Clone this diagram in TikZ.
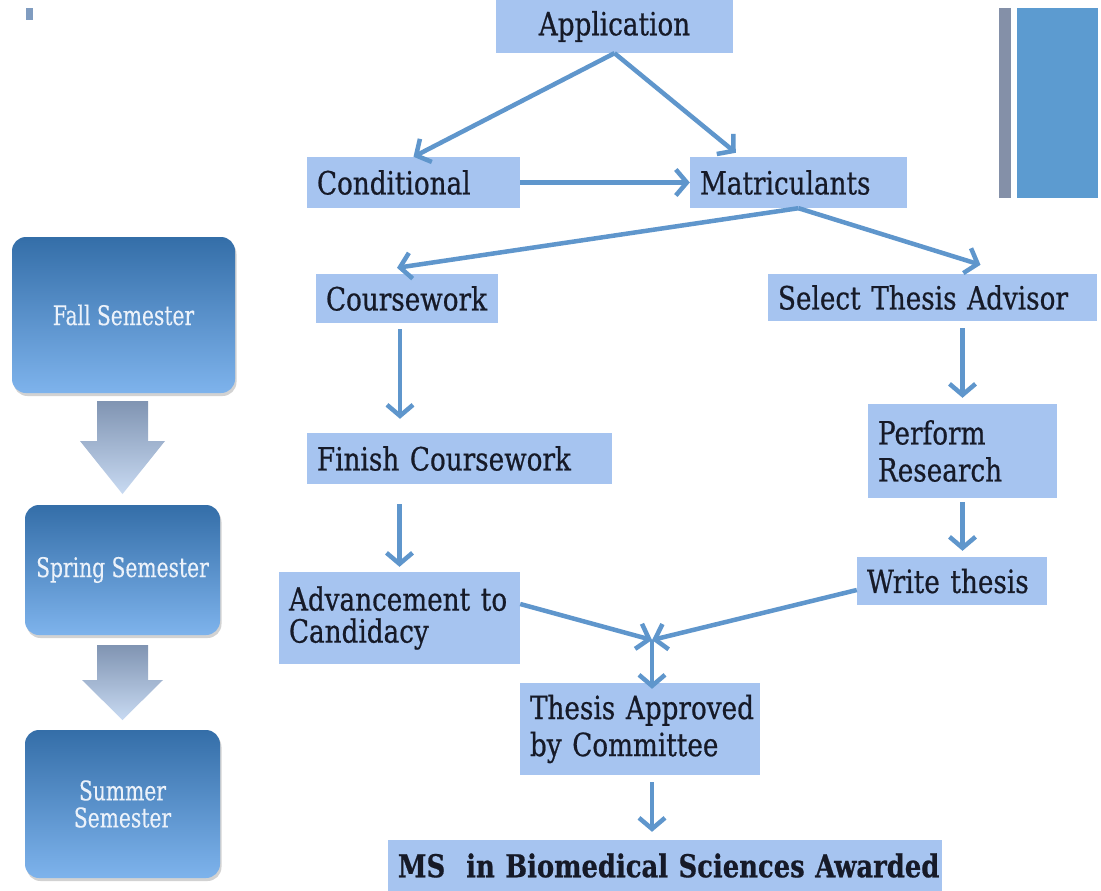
\documentclass[tikz,border=0pt]{standalone}
\usepackage{fontspec}
\setmainfont{DejaVu Serif}[FakeStretch=0.82,FakeBold=0.6]
\newfontfamily\semfont{DejaVu Serif}[FakeStretch=0.75,FakeBold=0.3]
\usetikzlibrary{arrows.meta,calc,shadows}
\definecolor{boxblue}{RGB}{166,196,240}
\definecolor{arrowblue}{RGB}{95,150,204}
\definecolor{textdark}{RGB}{22,26,40}
\definecolor{semtop}{RGB}{52,110,168}
\definecolor{sembot}{RGB}{126,179,236}
\definecolor{dntop}{RGB}{128,148,178}
\definecolor{dnbot}{RGB}{200,218,242}
\definecolor{bargray}{RGB}{132,144,168}
\definecolor{barblue}{RGB}{92,155,208}
\definecolor{marker}{RGB}{128,156,192}
\definecolor{semtext}{RGB}{236,242,250}
\tikzset{
  fbox/.style={fill=boxblue, inner xsep=10pt, inner ysep=0pt, align=left,
    text=textdark, font=\fontsize{32}{37}\selectfont},
  flow/.style={draw=arrowblue, line width=4.5pt,
    -{Straight Barb[length=11pt,width=26pt]}},
  sem/.style={rounded corners=14pt, top color=semtop, bottom color=sembot,
    text=semtext, font=\semfont\fontsize{27}{27}\selectfont, align=center,
    inner sep=0pt,
    drop shadow={opacity=0.35, shadow xshift=1.5pt, shadow yshift=-3pt}},
  dnarrow/.style={top color=dntop, bottom color=dnbot, draw=none}
}
\begin{document}
\begin{tikzpicture}[x=1pt,y=-1pt]
\useasboundingbox (0,0) rectangle (1101,891);
\fill[white] (0,0) rectangle (1101,891);

% decorations
\fill[marker] (26,8) rectangle (33,20);
\fill[bargray] (999,8) rectangle (1011,198);
\fill[barblue] (1017,8) rectangle (1098,198);

% semester column
\node (fall) [sem, minimum width=223pt, minimum height=156pt] at (123.5,315) {Fall Semester};
\node (spring) [sem, minimum width=195pt, minimum height=130pt] at (122.5,570) {Spring Semester};
\node (summer) [sem, minimum width=195pt, minimum height=148pt] at (122.5,804) {Summer\\Semester};
\shade[dnarrow] (97,401) -- (148,401) -- (148,441) -- (165,441) -- (122.5,494) -- (80,441) -- (97,441) -- cycle;
\shade[dnarrow] (97,645) -- (148,645) -- (148,680) -- (163,680) -- (122.5,720) -- (82,680) -- (97,680) -- cycle;

% flow boxes
\node (app) [fbox, align=center, text width=217pt, minimum height=53pt] at (614.5,26.5) {Application};
\node (cond) [fbox, text width=193pt, minimum height=51pt] at (413.5,182.5) {Conditional};
\node (matr) [fbox, text width=197pt, minimum height=51pt] at (798.5,182.5) {Matriculants};
\node (course) [fbox, text width=162pt, minimum height=49pt] at (407,298.5) {Coursework};
\node (sta) [fbox, text width=309pt, minimum height=47pt] at (932.5,297.5) {Select Thesis Advisor};
\node (finish) [fbox, text width=285pt, minimum height=51pt] at (459.5,458.5) {Finish Coursework};
\node (perform) [fbox, text width=169pt, minimum height=94pt] at (962.5,451) {\mbox{Perform}\\\mbox{Research}};
\node (adv) [fbox, text width=221pt, minimum height=92pt, font=\fontsize{32}{32}\selectfont] at (399.5,618) {\mbox{Advancement to}\\\mbox{Candidacy}};
\node (write) [fbox, text width=170pt, minimum height=48pt] at (952,581) {Write thesis};
\node (tac) [fbox, text width=220pt, minimum height=92pt] at (640,729) {\mbox{Thesis Approved}\\\mbox{by Committee}};
\node (ms) [fbox, align=center, text width=534pt, minimum height=51pt,
  font=\fontsize{31.5}{36}\selectfont\bfseries] at (665,865.5) {\mbox{MS\ \ in Biomedical Sciences Awarded}};

\coordinate (J) at (652,640);

% connectors
\draw[flow] (app.south) -- (cond.north);
\draw[flow] (app.south) -- ($(matr.north west)+(46,-4)$);
\draw[flow] (cond.east) -- (matr.west);
\draw[flow] (matr.south) -- ($(course.north)+(-10,-6)$);
\draw[flow] (matr.south) -- ($(sta.north)+(48,-9)$);
\draw[flow] ($(course.south)+(-7,6)$) -- ($(finish.north)+(-59.5,-14)$);
\draw[flow] ($(perform.north |- sta.south)+(0,7)$) -- ($(perform.north)+(0,-6)$);
\draw[flow] ($(adv.north |- finish.south)+(0,20)$) -- ($(adv.north)+(0,-5)$);
\draw[flow] ($(perform.south)+(0,4)$) -- ($(perform.south |- write.north)+(0,-6)$);
\draw[flow] ($(adv.east)+(0,-14)$) -- (J);
\draw[flow] ($(write.west)+(0,9)$) -- (J);
\draw[flow] (J) -- ($(J |- tac.north)+(0,6)$);
\draw[flow] ($(J |- tac.south)+(0,7)$) -- ($(J |- ms.north)+(0,-8)$);
\end{tikzpicture}
\end{document}
